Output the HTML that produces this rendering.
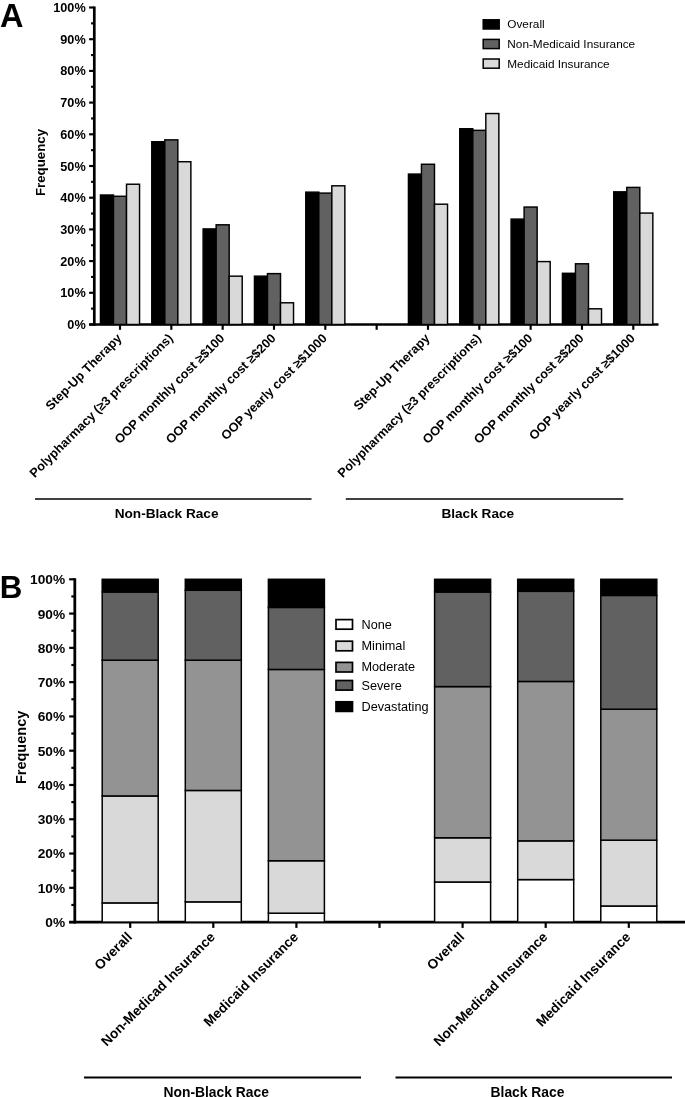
<!DOCTYPE html><html><head><meta charset="utf-8"><title>Figure</title>
<style>html,body{margin:0;padding:0;background:#fff}svg{display:block;will-change:transform}text{font-family:"Liberation Sans",sans-serif;fill:#000}.b{font-weight:bold}</style></head><body>
<svg width="685" height="1097" viewBox="0 0 685 1097">
<rect width="685" height="1097" fill="#fff"/>
<line x1="94.3" y1="6.425" x2="94.3" y2="325.85" stroke="#000" stroke-width="2.7"/>
<line x1="89.1" y1="7.50" x2="94.3" y2="7.50" stroke="#000" stroke-width="2.15"/>
<line x1="91.1" y1="23.35" x2="94.3" y2="23.35" stroke="#000" stroke-width="2.15"/>
<line x1="89.1" y1="39.20" x2="94.3" y2="39.20" stroke="#000" stroke-width="2.15"/>
<line x1="91.1" y1="55.05" x2="94.3" y2="55.05" stroke="#000" stroke-width="2.15"/>
<line x1="89.1" y1="70.90" x2="94.3" y2="70.90" stroke="#000" stroke-width="2.15"/>
<line x1="91.1" y1="86.75" x2="94.3" y2="86.75" stroke="#000" stroke-width="2.15"/>
<line x1="89.1" y1="102.60" x2="94.3" y2="102.60" stroke="#000" stroke-width="2.15"/>
<line x1="91.1" y1="118.45" x2="94.3" y2="118.45" stroke="#000" stroke-width="2.15"/>
<line x1="89.1" y1="134.30" x2="94.3" y2="134.30" stroke="#000" stroke-width="2.15"/>
<line x1="91.1" y1="150.15" x2="94.3" y2="150.15" stroke="#000" stroke-width="2.15"/>
<line x1="89.1" y1="166.00" x2="94.3" y2="166.00" stroke="#000" stroke-width="2.15"/>
<line x1="91.1" y1="181.85" x2="94.3" y2="181.85" stroke="#000" stroke-width="2.15"/>
<line x1="89.1" y1="197.70" x2="94.3" y2="197.70" stroke="#000" stroke-width="2.15"/>
<line x1="91.1" y1="213.55" x2="94.3" y2="213.55" stroke="#000" stroke-width="2.15"/>
<line x1="89.1" y1="229.40" x2="94.3" y2="229.40" stroke="#000" stroke-width="2.15"/>
<line x1="91.1" y1="245.25" x2="94.3" y2="245.25" stroke="#000" stroke-width="2.15"/>
<line x1="89.1" y1="261.10" x2="94.3" y2="261.10" stroke="#000" stroke-width="2.15"/>
<line x1="91.1" y1="276.95" x2="94.3" y2="276.95" stroke="#000" stroke-width="2.15"/>
<line x1="89.1" y1="292.80" x2="94.3" y2="292.80" stroke="#000" stroke-width="2.15"/>
<line x1="91.1" y1="308.65" x2="94.3" y2="308.65" stroke="#000" stroke-width="2.15"/>
<line x1="89.1" y1="324.50" x2="94.3" y2="324.50" stroke="#000" stroke-width="2.15"/>
<text class="b" x="85.7" y="12.07" font-size="12.7" text-anchor="end">100%</text>
<text class="b" x="85.7" y="43.77" font-size="12.7" text-anchor="end">90%</text>
<text class="b" x="85.7" y="75.47" font-size="12.7" text-anchor="end">80%</text>
<text class="b" x="85.7" y="107.17" font-size="12.7" text-anchor="end">70%</text>
<text class="b" x="85.7" y="138.87" font-size="12.7" text-anchor="end">60%</text>
<text class="b" x="85.7" y="170.57" font-size="12.7" text-anchor="end">50%</text>
<text class="b" x="85.7" y="202.27" font-size="12.7" text-anchor="end">40%</text>
<text class="b" x="85.7" y="233.97" font-size="12.7" text-anchor="end">30%</text>
<text class="b" x="85.7" y="265.67" font-size="12.7" text-anchor="end">20%</text>
<text class="b" x="85.7" y="297.37" font-size="12.7" text-anchor="end">10%</text>
<text class="b" x="85.7" y="329.07" font-size="12.7" text-anchor="end">0%</text>
<line x1="89.1" y1="324.5" x2="658.5" y2="324.5" stroke="#000" stroke-width="2.7"/>
<line x1="120.00" y1="324.5" x2="120.00" y2="329.8" stroke="#000" stroke-width="2.15"/>
<line x1="171.33" y1="324.5" x2="171.33" y2="329.8" stroke="#000" stroke-width="2.15"/>
<line x1="222.66" y1="324.5" x2="222.66" y2="329.8" stroke="#000" stroke-width="2.15"/>
<line x1="273.99" y1="324.5" x2="273.99" y2="329.8" stroke="#000" stroke-width="2.15"/>
<line x1="325.32" y1="324.5" x2="325.32" y2="329.8" stroke="#000" stroke-width="2.15"/>
<line x1="376.65" y1="324.5" x2="376.65" y2="329.8" stroke="#000" stroke-width="2.15"/>
<line x1="427.98" y1="324.5" x2="427.98" y2="329.8" stroke="#000" stroke-width="2.15"/>
<line x1="479.31" y1="324.5" x2="479.31" y2="329.8" stroke="#000" stroke-width="2.15"/>
<line x1="530.64" y1="324.5" x2="530.64" y2="329.8" stroke="#000" stroke-width="2.15"/>
<line x1="581.97" y1="324.5" x2="581.97" y2="329.8" stroke="#000" stroke-width="2.15"/>
<line x1="633.30" y1="324.5" x2="633.30" y2="329.8" stroke="#000" stroke-width="2.15"/>
<rect x="100.45" y="195.01" width="13.03" height="129.49" fill="#000" stroke="#000" stroke-width="1.45"/>
<rect x="113.48" y="196.27" width="13.03" height="128.23" fill="#616161" stroke="#000" stroke-width="1.45"/>
<rect x="126.52" y="184.23" width="13.03" height="140.27" fill="#d9d9d9" stroke="#000" stroke-width="1.45"/>
<rect x="151.78" y="141.75" width="13.03" height="182.75" fill="#000" stroke="#000" stroke-width="1.45"/>
<rect x="164.81" y="139.85" width="13.03" height="184.65" fill="#616161" stroke="#000" stroke-width="1.45"/>
<rect x="177.84" y="161.72" width="13.03" height="162.78" fill="#d9d9d9" stroke="#000" stroke-width="1.45"/>
<rect x="203.12" y="228.92" width="13.03" height="95.58" fill="#000" stroke="#000" stroke-width="1.45"/>
<rect x="216.15" y="224.80" width="13.03" height="99.70" fill="#616161" stroke="#000" stroke-width="1.45"/>
<rect x="229.18" y="276.16" width="13.03" height="48.34" fill="#d9d9d9" stroke="#000" stroke-width="1.45"/>
<rect x="254.45" y="276.16" width="13.03" height="48.34" fill="#000" stroke="#000" stroke-width="1.45"/>
<rect x="267.48" y="273.62" width="13.03" height="50.88" fill="#616161" stroke="#000" stroke-width="1.45"/>
<rect x="280.50" y="302.79" width="13.03" height="21.71" fill="#d9d9d9" stroke="#000" stroke-width="1.45"/>
<rect x="305.77" y="192.15" width="13.03" height="132.35" fill="#000" stroke="#000" stroke-width="1.45"/>
<rect x="318.80" y="193.10" width="13.03" height="131.40" fill="#616161" stroke="#000" stroke-width="1.45"/>
<rect x="331.83" y="185.81" width="13.03" height="138.69" fill="#d9d9d9" stroke="#000" stroke-width="1.45"/>
<rect x="408.44" y="174.08" width="13.03" height="150.42" fill="#000" stroke="#000" stroke-width="1.45"/>
<rect x="421.46" y="164.26" width="13.03" height="160.24" fill="#616161" stroke="#000" stroke-width="1.45"/>
<rect x="434.50" y="204.20" width="13.03" height="120.30" fill="#d9d9d9" stroke="#000" stroke-width="1.45"/>
<rect x="459.76" y="128.75" width="13.03" height="195.75" fill="#000" stroke="#000" stroke-width="1.45"/>
<rect x="472.79" y="130.34" width="13.03" height="194.16" fill="#616161" stroke="#000" stroke-width="1.45"/>
<rect x="485.82" y="113.54" width="13.03" height="210.96" fill="#d9d9d9" stroke="#000" stroke-width="1.45"/>
<rect x="511.09" y="219.10" width="13.03" height="105.40" fill="#000" stroke="#000" stroke-width="1.45"/>
<rect x="524.12" y="207.05" width="13.03" height="117.45" fill="#616161" stroke="#000" stroke-width="1.45"/>
<rect x="537.15" y="261.58" width="13.03" height="62.92" fill="#d9d9d9" stroke="#000" stroke-width="1.45"/>
<rect x="562.43" y="273.30" width="13.03" height="51.20" fill="#000" stroke="#000" stroke-width="1.45"/>
<rect x="575.46" y="263.79" width="13.03" height="60.71" fill="#616161" stroke="#000" stroke-width="1.45"/>
<rect x="588.49" y="308.81" width="13.03" height="15.69" fill="#d9d9d9" stroke="#000" stroke-width="1.45"/>
<rect x="613.75" y="191.84" width="13.03" height="132.66" fill="#000" stroke="#000" stroke-width="1.45"/>
<rect x="626.78" y="187.40" width="13.03" height="137.10" fill="#616161" stroke="#000" stroke-width="1.45"/>
<rect x="639.81" y="213.07" width="13.03" height="111.43" fill="#d9d9d9" stroke="#000" stroke-width="1.45"/>
<text class="b" font-size="12.7" text-anchor="end" transform="translate(122.50,339.1) rotate(-45)">Step-Up Therapy</text>
<text class="b" font-size="12.7" text-anchor="end" transform="translate(173.83,339.1) rotate(-45)">Polypharmacy (≥3 prescriptions)</text>
<text class="b" font-size="12.7" text-anchor="end" transform="translate(225.16,339.1) rotate(-45)">OOP monthly cost ≥$100</text>
<text class="b" font-size="12.7" text-anchor="end" transform="translate(276.49,339.1) rotate(-45)">OOP monthly cost ≥$200</text>
<text class="b" font-size="12.7" text-anchor="end" transform="translate(327.82,339.1) rotate(-45)">OOP yearly cost ≥$1000</text>
<text class="b" font-size="12.7" text-anchor="end" transform="translate(430.48,339.1) rotate(-45)">Step-Up Therapy</text>
<text class="b" font-size="12.7" text-anchor="end" transform="translate(481.81,339.1) rotate(-45)">Polypharmacy (≥3 prescriptions)</text>
<text class="b" font-size="12.7" text-anchor="end" transform="translate(533.14,339.1) rotate(-45)">OOP monthly cost ≥$100</text>
<text class="b" font-size="12.7" text-anchor="end" transform="translate(584.47,339.1) rotate(-45)">OOP monthly cost ≥$200</text>
<text class="b" font-size="12.7" text-anchor="end" transform="translate(635.80,339.1) rotate(-45)">OOP yearly cost ≥$1000</text>
<text class="b" font-size="13.25" text-anchor="middle" transform="translate(45.3,162.5) rotate(-90)">Frequency</text>
<text class="b" font-size="32.5" x="-0.1" y="27.4">A</text>
<rect x="483.2" y="19.80" width="16" height="9.2" fill="#000" stroke="#000" stroke-width="1.5"/>
<text font-size="11.8" x="507.3" y="28.40">Overall</text>
<rect x="483.2" y="39.40" width="16" height="9.2" fill="#616161" stroke="#000" stroke-width="1.5"/>
<text font-size="11.8" x="507.3" y="48.00">Non-Medicaid Insurance</text>
<rect x="483.2" y="59.00" width="16" height="9.2" fill="#d9d9d9" stroke="#000" stroke-width="1.5"/>
<text font-size="11.8" x="507.3" y="67.60">Medicaid Insurance</text>
<line x1="35" y1="499" x2="311.5" y2="499" stroke="#000" stroke-width="1.6"/>
<line x1="345.8" y1="499" x2="623.3" y2="499" stroke="#000" stroke-width="1.6"/>
<text class="b" font-size="13.65" text-anchor="middle" x="166.6" y="518.2">Non-Black Race</text>
<text class="b" font-size="13.65" text-anchor="middle" x="477.8" y="518.2">Black Race</text>
<line x1="74.8" y1="578.1999999999999" x2="74.8" y2="923.5" stroke="#000" stroke-width="2.8"/>
<line x1="69.184" y1="579.30" x2="74.8" y2="579.30" stroke="#000" stroke-width="2.2"/>
<line x1="71.344" y1="596.44" x2="74.8" y2="596.44" stroke="#000" stroke-width="2.2"/>
<line x1="69.184" y1="613.58" x2="74.8" y2="613.58" stroke="#000" stroke-width="2.2"/>
<line x1="71.344" y1="630.72" x2="74.8" y2="630.72" stroke="#000" stroke-width="2.2"/>
<line x1="69.184" y1="647.86" x2="74.8" y2="647.86" stroke="#000" stroke-width="2.2"/>
<line x1="71.344" y1="665.00" x2="74.8" y2="665.00" stroke="#000" stroke-width="2.2"/>
<line x1="69.184" y1="682.14" x2="74.8" y2="682.14" stroke="#000" stroke-width="2.2"/>
<line x1="71.344" y1="699.28" x2="74.8" y2="699.28" stroke="#000" stroke-width="2.2"/>
<line x1="69.184" y1="716.42" x2="74.8" y2="716.42" stroke="#000" stroke-width="2.2"/>
<line x1="71.344" y1="733.56" x2="74.8" y2="733.56" stroke="#000" stroke-width="2.2"/>
<line x1="69.184" y1="750.70" x2="74.8" y2="750.70" stroke="#000" stroke-width="2.2"/>
<line x1="71.344" y1="767.84" x2="74.8" y2="767.84" stroke="#000" stroke-width="2.2"/>
<line x1="69.184" y1="784.98" x2="74.8" y2="784.98" stroke="#000" stroke-width="2.2"/>
<line x1="71.344" y1="802.12" x2="74.8" y2="802.12" stroke="#000" stroke-width="2.2"/>
<line x1="69.184" y1="819.26" x2="74.8" y2="819.26" stroke="#000" stroke-width="2.2"/>
<line x1="71.344" y1="836.40" x2="74.8" y2="836.40" stroke="#000" stroke-width="2.2"/>
<line x1="69.184" y1="853.54" x2="74.8" y2="853.54" stroke="#000" stroke-width="2.2"/>
<line x1="71.344" y1="870.68" x2="74.8" y2="870.68" stroke="#000" stroke-width="2.2"/>
<line x1="69.184" y1="887.82" x2="74.8" y2="887.82" stroke="#000" stroke-width="2.2"/>
<line x1="71.344" y1="904.96" x2="74.8" y2="904.96" stroke="#000" stroke-width="2.2"/>
<line x1="69.184" y1="922.10" x2="74.8" y2="922.10" stroke="#000" stroke-width="2.2"/>
<text class="b" x="65.1" y="584.23" font-size="13.7" text-anchor="end">100%</text>
<text class="b" x="65.1" y="618.51" font-size="13.7" text-anchor="end">90%</text>
<text class="b" x="65.1" y="652.79" font-size="13.7" text-anchor="end">80%</text>
<text class="b" x="65.1" y="687.07" font-size="13.7" text-anchor="end">70%</text>
<text class="b" x="65.1" y="721.35" font-size="13.7" text-anchor="end">60%</text>
<text class="b" x="65.1" y="755.63" font-size="13.7" text-anchor="end">50%</text>
<text class="b" x="65.1" y="789.91" font-size="13.7" text-anchor="end">40%</text>
<text class="b" x="65.1" y="824.19" font-size="13.7" text-anchor="end">30%</text>
<text class="b" x="65.1" y="858.47" font-size="13.7" text-anchor="end">20%</text>
<text class="b" x="65.1" y="892.75" font-size="13.7" text-anchor="end">10%</text>
<text class="b" x="65.1" y="927.03" font-size="13.7" text-anchor="end">0%</text>
<line x1="69.2" y1="922.1" x2="685" y2="922.1" stroke="#000" stroke-width="2.8"/>
<line x1="130.20" y1="922.1" x2="130.20" y2="927.9" stroke="#000" stroke-width="2.2"/>
<line x1="213.30" y1="922.1" x2="213.30" y2="927.9" stroke="#000" stroke-width="2.2"/>
<line x1="296.40" y1="922.1" x2="296.40" y2="927.9" stroke="#000" stroke-width="2.2"/>
<line x1="379.50" y1="922.1" x2="379.50" y2="927.9" stroke="#000" stroke-width="2.2"/>
<line x1="462.60" y1="922.1" x2="462.60" y2="927.9" stroke="#000" stroke-width="2.2"/>
<line x1="545.70" y1="922.1" x2="545.70" y2="927.9" stroke="#000" stroke-width="2.2"/>
<line x1="628.80" y1="922.1" x2="628.80" y2="927.9" stroke="#000" stroke-width="2.2"/>
<rect x="102.20" y="902.90" width="56.00" height="19.20" fill="#fff" stroke="#000" stroke-width="1.5"/>
<rect x="102.20" y="795.95" width="56.00" height="106.95" fill="#d9d9d9" stroke="#000" stroke-width="1.5"/>
<rect x="102.20" y="660.20" width="56.00" height="135.75" fill="#939393" stroke="#000" stroke-width="1.5"/>
<rect x="102.20" y="591.98" width="56.00" height="68.22" fill="#616161" stroke="#000" stroke-width="1.5"/>
<rect x="102.20" y="579.30" width="56.00" height="12.68" fill="#000" stroke="#000" stroke-width="1.5"/>
<rect x="185.30" y="901.87" width="56.00" height="20.23" fill="#fff" stroke="#000" stroke-width="1.5"/>
<rect x="185.30" y="790.46" width="56.00" height="111.41" fill="#d9d9d9" stroke="#000" stroke-width="1.5"/>
<rect x="185.30" y="660.20" width="56.00" height="130.26" fill="#939393" stroke="#000" stroke-width="1.5"/>
<rect x="185.30" y="590.27" width="56.00" height="69.93" fill="#616161" stroke="#000" stroke-width="1.5"/>
<rect x="185.30" y="579.30" width="56.00" height="10.97" fill="#000" stroke="#000" stroke-width="1.5"/>
<rect x="268.40" y="913.19" width="56.00" height="8.91" fill="#fff" stroke="#000" stroke-width="1.5"/>
<rect x="268.40" y="860.74" width="56.00" height="52.45" fill="#d9d9d9" stroke="#000" stroke-width="1.5"/>
<rect x="268.40" y="669.46" width="56.00" height="191.28" fill="#939393" stroke="#000" stroke-width="1.5"/>
<rect x="268.40" y="607.41" width="56.00" height="62.05" fill="#616161" stroke="#000" stroke-width="1.5"/>
<rect x="268.40" y="579.30" width="56.00" height="28.11" fill="#000" stroke="#000" stroke-width="1.5"/>
<rect x="434.60" y="881.99" width="56.00" height="40.11" fill="#fff" stroke="#000" stroke-width="1.5"/>
<rect x="434.60" y="837.77" width="56.00" height="44.22" fill="#d9d9d9" stroke="#000" stroke-width="1.5"/>
<rect x="434.60" y="686.60" width="56.00" height="151.17" fill="#939393" stroke="#000" stroke-width="1.5"/>
<rect x="434.60" y="591.98" width="56.00" height="94.61" fill="#616161" stroke="#000" stroke-width="1.5"/>
<rect x="434.60" y="579.30" width="56.00" height="12.68" fill="#000" stroke="#000" stroke-width="1.5"/>
<rect x="517.70" y="879.59" width="56.00" height="42.51" fill="#fff" stroke="#000" stroke-width="1.5"/>
<rect x="517.70" y="840.86" width="56.00" height="38.74" fill="#d9d9d9" stroke="#000" stroke-width="1.5"/>
<rect x="517.70" y="681.45" width="56.00" height="159.40" fill="#939393" stroke="#000" stroke-width="1.5"/>
<rect x="517.70" y="591.30" width="56.00" height="90.16" fill="#616161" stroke="#000" stroke-width="1.5"/>
<rect x="517.70" y="579.30" width="56.00" height="12.00" fill="#000" stroke="#000" stroke-width="1.5"/>
<rect x="600.80" y="905.99" width="56.00" height="16.11" fill="#fff" stroke="#000" stroke-width="1.5"/>
<rect x="600.80" y="840.17" width="56.00" height="65.82" fill="#d9d9d9" stroke="#000" stroke-width="1.5"/>
<rect x="600.80" y="709.22" width="56.00" height="130.95" fill="#939393" stroke="#000" stroke-width="1.5"/>
<rect x="600.80" y="595.41" width="56.00" height="113.81" fill="#616161" stroke="#000" stroke-width="1.5"/>
<rect x="600.80" y="579.30" width="56.00" height="16.11" fill="#000" stroke="#000" stroke-width="1.5"/>
<text class="b" font-size="13.7" text-anchor="end" transform="translate(132.90,937.8000000000001) rotate(-45)">Overall</text>
<text class="b" font-size="13.7" text-anchor="end" transform="translate(216.00,937.8000000000001) rotate(-45)">Non-Medicad Insurance</text>
<text class="b" font-size="13.7" text-anchor="end" transform="translate(299.10,937.8000000000001) rotate(-45)">Medicaid Insurance</text>
<text class="b" font-size="13.7" text-anchor="end" transform="translate(465.30,937.8000000000001) rotate(-45)">Overall</text>
<text class="b" font-size="13.7" text-anchor="end" transform="translate(548.40,937.8000000000001) rotate(-45)">Non-Medicad Insurance</text>
<text class="b" font-size="13.7" text-anchor="end" transform="translate(631.50,937.8000000000001) rotate(-45)">Medicaid Insurance</text>
<text class="b" font-size="14.5" text-anchor="middle" transform="translate(25.5,747.4) rotate(-90)">Frequency</text>
<text class="b" font-size="31.3" x="-0.2" y="598">B</text>
<rect x="336" y="619.60" width="16.5" height="9.6" fill="#fff" stroke="#000" stroke-width="1.7"/>
<text font-size="12.7" x="361.5" y="628.90">None</text>
<rect x="336" y="641.20" width="16.5" height="9.6" fill="#d9d9d9" stroke="#000" stroke-width="1.7"/>
<text font-size="12.7" x="361.5" y="649.90">Minimal</text>
<rect x="336" y="662.40" width="16.5" height="9.6" fill="#939393" stroke="#000" stroke-width="1.7"/>
<text font-size="12.7" x="361.5" y="670.80">Moderate</text>
<rect x="336" y="680.50" width="16.5" height="9.6" fill="#616161" stroke="#000" stroke-width="1.7"/>
<text font-size="12.7" x="361.5" y="689.80">Severe</text>
<rect x="336" y="701.80" width="16.5" height="9.6" fill="#000" stroke="#000" stroke-width="1.7"/>
<text font-size="12.7" x="361.5" y="710.80">Devastating</text>
<line x1="84" y1="1077.5" x2="361" y2="1077.5" stroke="#000" stroke-width="1.8"/>
<line x1="395.5" y1="1077.5" x2="672" y2="1077.5" stroke="#000" stroke-width="1.8"/>
<text class="b" font-size="13.85" text-anchor="middle" x="216.2" y="1096.6">Non-Black Race</text>
<text class="b" font-size="13.85" text-anchor="middle" x="527.5" y="1096.6">Black Race</text>
</svg></body></html>
